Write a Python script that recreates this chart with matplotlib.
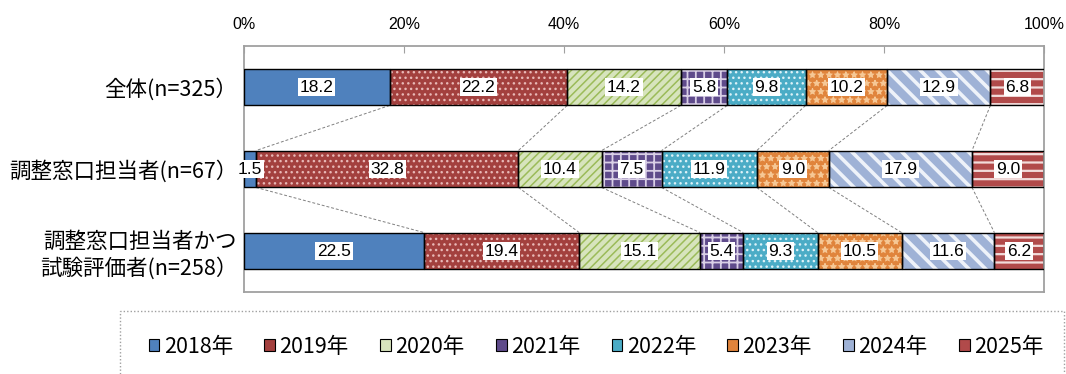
import matplotlib
matplotlib.use("Agg")
import matplotlib.pyplot as plt
from matplotlib.patches import Patch, Rectangle
import numpy as np

plt.rcParams['font.family'] = ['Noto Sans CJK JP', 'DejaVu Sans']

categories = ["全体(n=325）", "調整窓口担当者(n=67）", "調整窓口担当者かつ\n試験評価者(n=258）"]
years = ["2018年", "2019年", "2020年", "2021年", "2022年", "2023年", "2024年", "2025年"]
values = [
    [18.2, 22.2, 14.2, 5.8, 9.8, 10.2, 12.9, 6.8],
    [1.5, 32.8, 10.4, 7.5, 11.9, 9.0, 17.9, 9.0],
    [22.5, 19.4, 15.1, 5.4, 9.3, 10.5, 11.6, 6.2],
]
tick_values = [0, 20, 40, 60, 80, 100]

# fill colour, hatch pattern, hatch colour, hatch line width per year
styles = [
    ("#4F81BD", "", "#4F81BD", 1.0),
    ("#A3403E", "...", "#E8B8B6", 1.0),
    ("#D7E4BD", "////", "#9BBB59", 1.1),
    ("#5F4B8B", "++", "#D9CFE6", 1.3),
    ("#4BACC6", "...", "#DDF2F8", 1.0),
    ("#E0843C", "**", "#F6C896", 0.8),
    ("#9FB2D6", "\\\\", "#EEF2F9", 2.6),
    ("#B14A4A", "--", "#F2DCDB", 1.6),
]

label_font = ['Liberation Sans', 'DejaVu Sans']

fig = plt.figure(figsize=(10.66, 3.74), dpi=100)
ax = fig.add_axes([244 / 1066, 1 - 292 / 374, 800 / 1066, 246 / 374])

data = np.array(values)
ypos = np.arange(len(categories))
bar_h = 0.45
lefts = np.zeros(len(categories))

for j, (fc, hatch, hc, hlw) in enumerate(styles):
    plt.rcParams['hatch.linewidth'] = hlw
    vals = data[:, j]
    bars = ax.barh(ypos, vals, left=lefts, height=bar_h, color=fc,
                   edgecolor=hc, hatch=hatch, linewidth=0, zorder=2)
    for b in bars:
        if hasattr(b, "set_hatch_linewidth"):
            b.set_hatch_linewidth(hlw)
    ax.barh(ypos, vals, left=lefts, height=bar_h, fill=False,
            edgecolor="black", linewidth=1.0, zorder=3)
    for i, v in enumerate(vals):
        ax.text(lefts[i] + v / 2, ypos[i], f"{v:.1f}", ha="center", va="center",
                fontsize=12.5, family=label_font, zorder=5,
                bbox=dict(boxstyle="square,pad=0.1", fc="white", ec="none"))
    lefts = lefts + vals

# dashed connectors between neighbouring bars
cums = np.cumsum(data, axis=1)
for i in range(len(categories) - 1):
    for j in range(data.shape[1] - 1):
        ax.plot([cums[i, j], cums[i + 1, j]],
                [ypos[i] + bar_h / 2, ypos[i + 1] - bar_h / 2],
                color="#808080", lw=0.7, ls=(0, (3, 2)), zorder=1)

ax.set_xlim(0, 100)
ax.set_ylim(2.5, -0.5)
ax.set_yticks(ypos)
ax.set_yticklabels(categories, fontsize=15.5, linespacing=1.2, multialignment="right")
ax.tick_params(axis="y", length=0, pad=5)
ax.xaxis.tick_top()
ax.set_xticks(tick_values)
ax.set_xticklabels([f"{t}%" for t in tick_values], family=label_font, fontsize=11.5)
ax.tick_params(axis="x", direction="in", length=5, color="#A0A0A0", pad=10)
for side in ["top", "bottom", "left", "right"]:
    ax.spines[side].set_color("#A0A0A0")
    ax.spines[side].set_linewidth(1.3)

# legend
handles = [Patch(facecolor=s[0], edgecolor="black", linewidth=0.8) for s in styles]
fig.legend(handles, years, loc="center", ncol=8,
           bbox_to_anchor=(596 / 1066, 1 - 347 / 374), frameon=False,
           fontsize=15.5, handlelength=0.5, handleheight=0.5, handletextpad=0.2,
           columnspacing=1.46)
fig.patches.append(Rectangle((120 / 1066, -0.05), 944 / 1066, 0.05 + (374 - 311) / 374,
                             transform=fig.transFigure, fill=False,
                             edgecolor="#A0A0A0", lw=1.0, ls=(0, (1, 1.5))))

fig.savefig("out.png", dpi=100)
